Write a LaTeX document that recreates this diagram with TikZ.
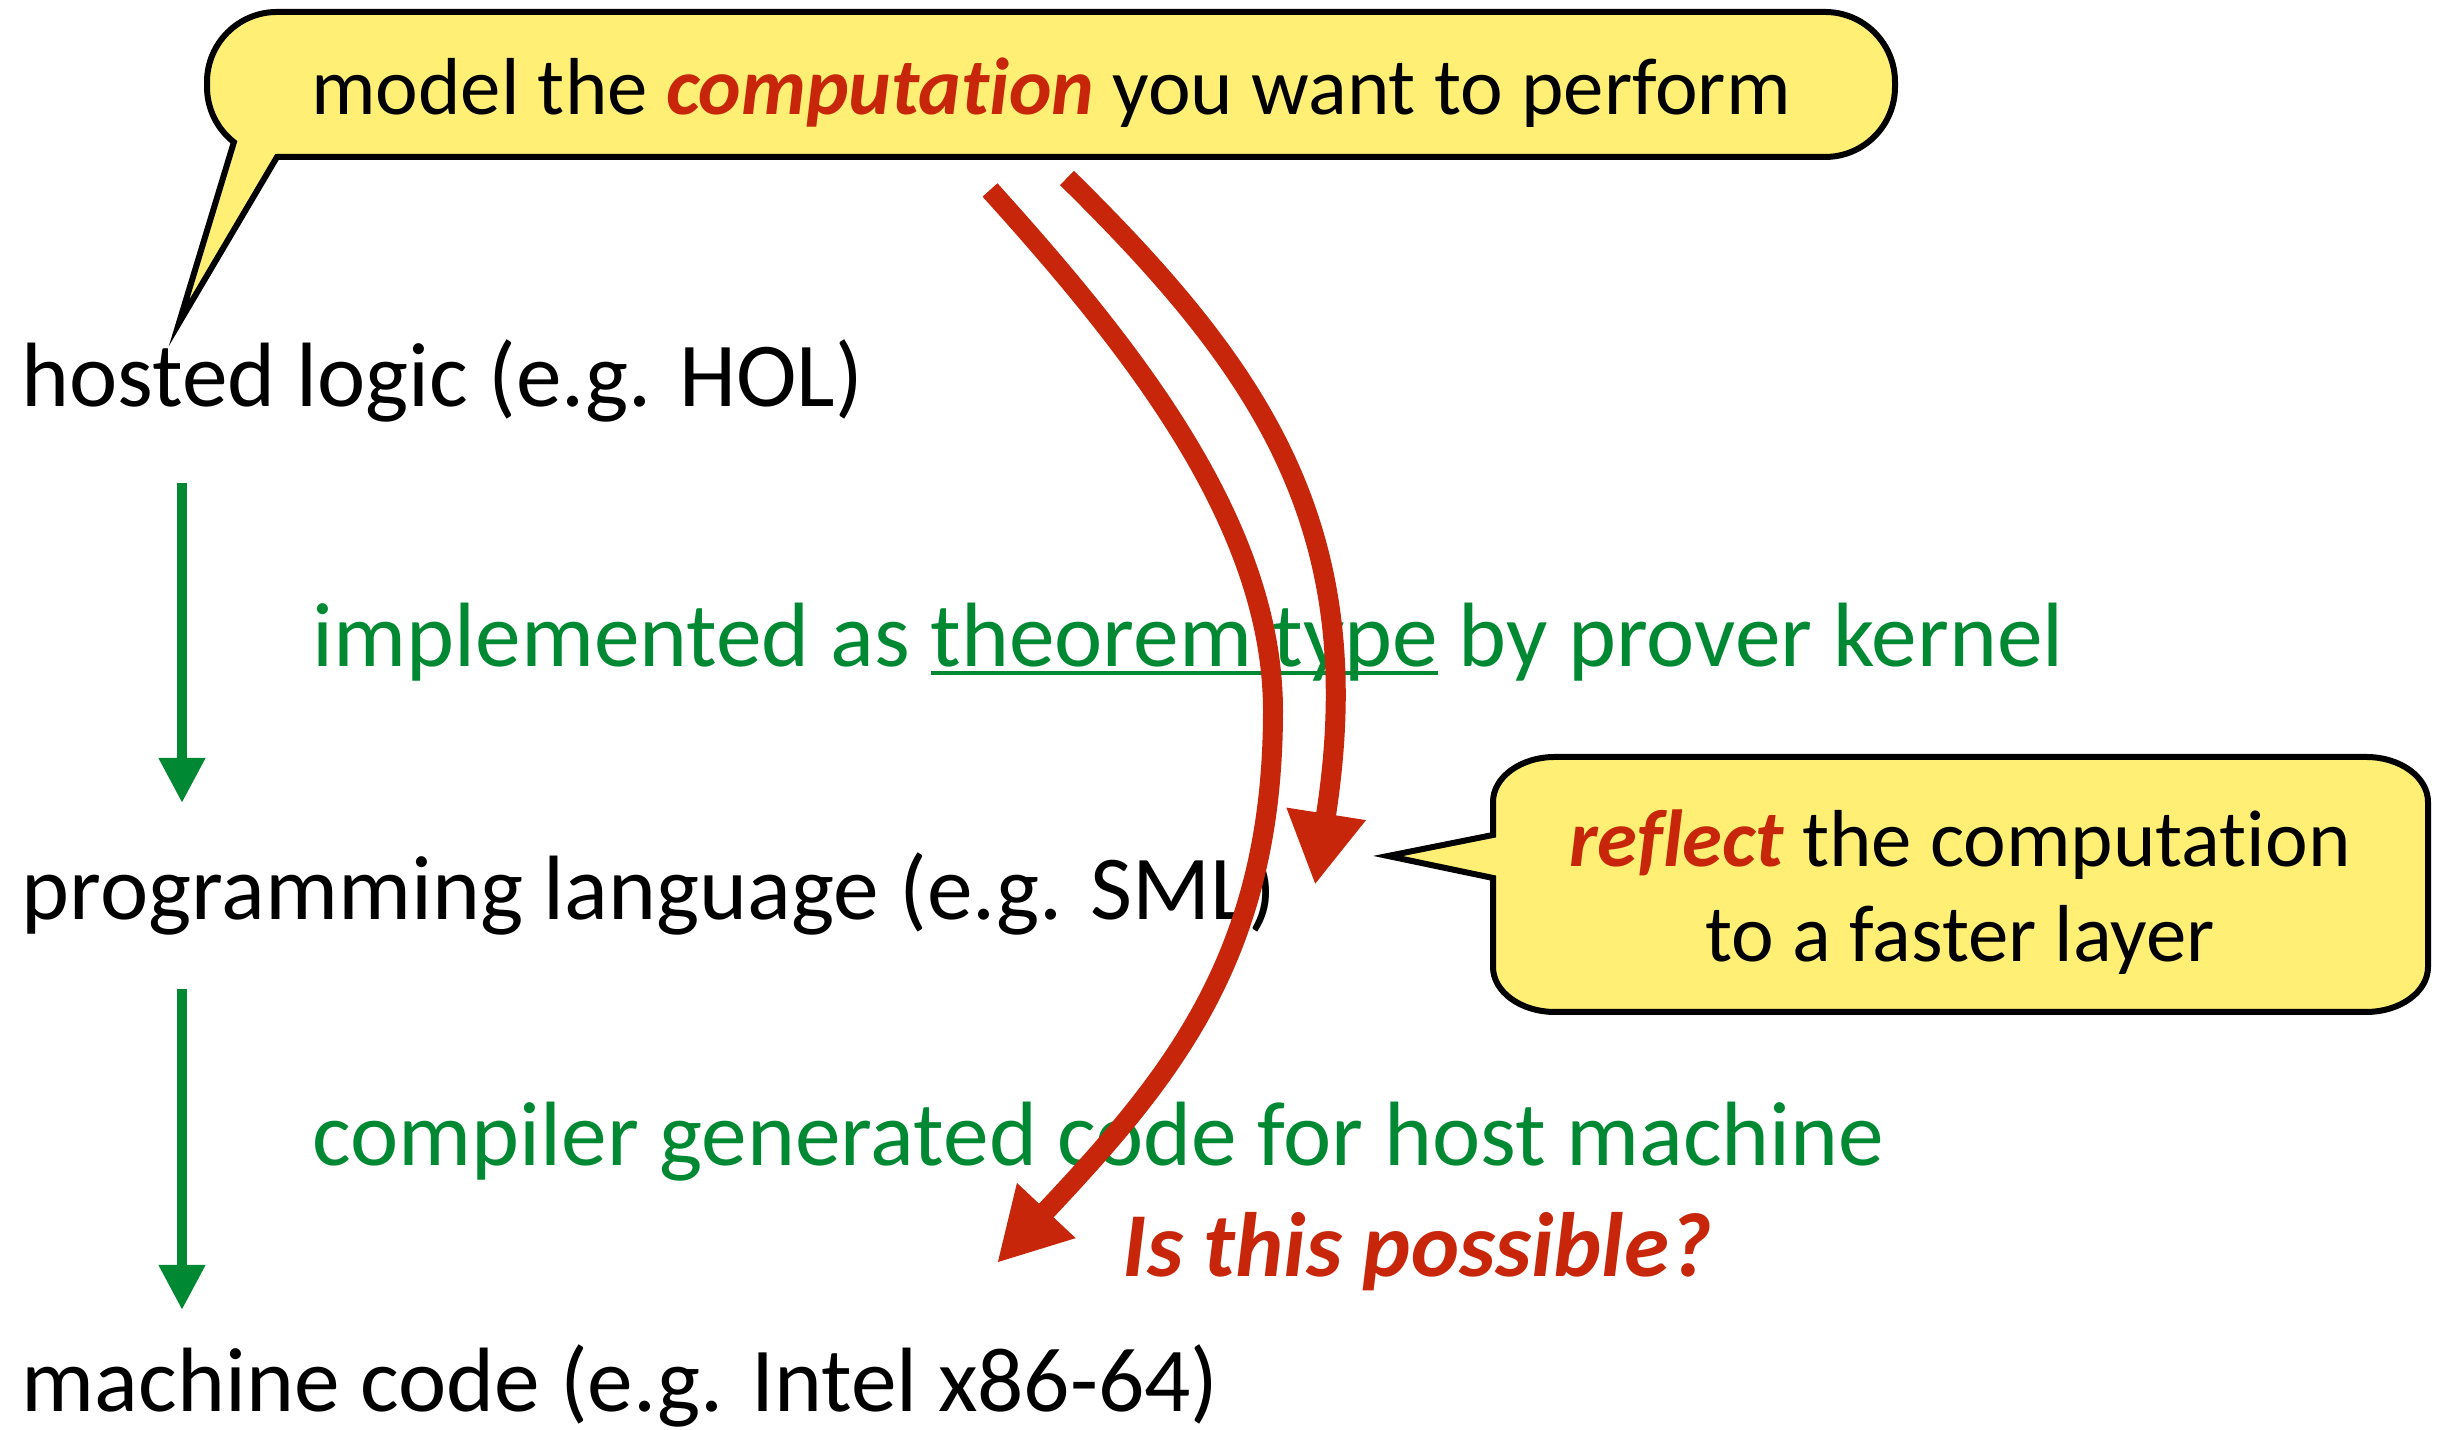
\documentclass[tikz,border=0pt]{standalone}
\usepackage{fontspec}
\setmainfont{Carlito}[Ligatures=NoCommon]
\definecolor{hlyellow}{RGB}{255,240,117}
\definecolor{hlred}{RGB}{200,38,10}
\definecolor{hlgreen}{RGB}{0,137,50}
\usetikzlibrary{arrows.meta}
% underline that sits just under the baseline, through the descenders
\newcommand{\uln}[1]{\setbox0\hbox{#1}\rlap{\rule[-0.8mm]{\wd0}{0.4mm}}\box0\relax}
\newcommand{\hot}[1]{\textcolor{hlred}{\bfseries\itshape #1}}

\begin{document}
\begin{tikzpicture}[
  bubble/.style={draw=black, fill=hlyellow, line width=0.6mm},
  layer/.style={anchor=base west, inner sep=0pt, font=\fontsize{26}{30}\selectfont},
  impl/.style={layer, text=hlgreen},
  say/.style={anchor=base, inner sep=0pt, font=\fontsize{23}{27}\selectfont},
  down/.style={-{Triangle[length=4.5mm, width=4.4mm]}, line width=1.05mm, draw=hlgreen},
  leap/.style={-{Triangle[length=7.2mm, width=7.5mm]}, line width=2mm, draw=hlred}
]
\useasboundingbox (0,0) rectangle (24.44,14.30);

% Layers
\node[layer] (hol) at (0.21,10.23) {hosted logic (e.g. HOL)};
\node[layer] (sml) at (0.21,5.10)  {programming language (e.g. SML)};
\node[layer] (x86) at (0.21,0.18)  {machine code (e.g. Intel x86-64)};

% How each layer is built from the next
\draw[down] ([xshift=1.61cm, yshift=-0.76cm]hol.base west) -- ([xshift=1.61cm, yshift=1.17cm]sml.base west);
\draw[down] ([xshift=1.61cm, yshift=-0.69cm]sml.base west) -- ([xshift=1.61cm, yshift=1.02cm]x86.base west);
\node[impl] (kernel) at (3.12,7.63) {implemented as \uln{theorem type} by prover kernel};
\node[impl] (compiler) at (3.12,2.64) {compiler generated code for host machine};

% Speech bubbles
\draw[bubble] (2.77,12.73) -- (18.25,12.73)
  arc[start angle=-90, end angle=0, radius=0.7] -- (18.95,13.48)
  arc[start angle=0, end angle=90, radius=0.7] -- (2.77,14.18)
  arc[start angle=90, end angle=180, radius=0.7] -- (2.07,13.43)
  arc[start angle=180, end angle=232, radius=0.7] -- (1.79,11.07) -- cycle;
\node[say] (model) at (10.51,13.15) {model the \hot{computation} you want to perform};

\draw[bubble] (14.93,5.52) -- (14.93,4.63)
  arc[start angle=180, end angle=270, x radius=0.62, y radius=0.45] -- (23.66,4.18)
  arc[start angle=270, end angle=360, x radius=0.62, y radius=0.45] -- (24.28,6.28)
  arc[start angle=0, end angle=90, x radius=0.62, y radius=0.45] -- (15.55,6.73)
  arc[start angle=90, end angle=180, x radius=0.62, y radius=0.45] -- (14.93,5.95) -- (13.88,5.74) -- cycle;
\node[say] (reflect) at (19.60,5.63) {\hot{reflect} the computation};
\node[say] (faster) at (19.60,4.68) {to a faster layer};

\node[layer, text=hlred, font=\fontsize{26}{30}\selectfont\bfseries\itshape] (possible) at (11.22,1.53) {Is this possible?};

% The two routes down
\coordinate (fromA) at (9.90,12.40);
\coordinate (toA) at (9.97,1.67);
\coordinate (fromB) at (10.67,12.52);
\coordinate (toB) at (13.15,5.45);
\draw[leap] (fromA) .. controls (11.27,10.88) and (12.73,9.09) .. (12.73,7.19)
  .. controls (12.73,4.73) and (11.70,3.51) .. (toA);
\draw[leap] (fromB) .. controls (12.62,10.60) and (13.71,9.01) .. (toB);
\end{tikzpicture}
\end{document}
